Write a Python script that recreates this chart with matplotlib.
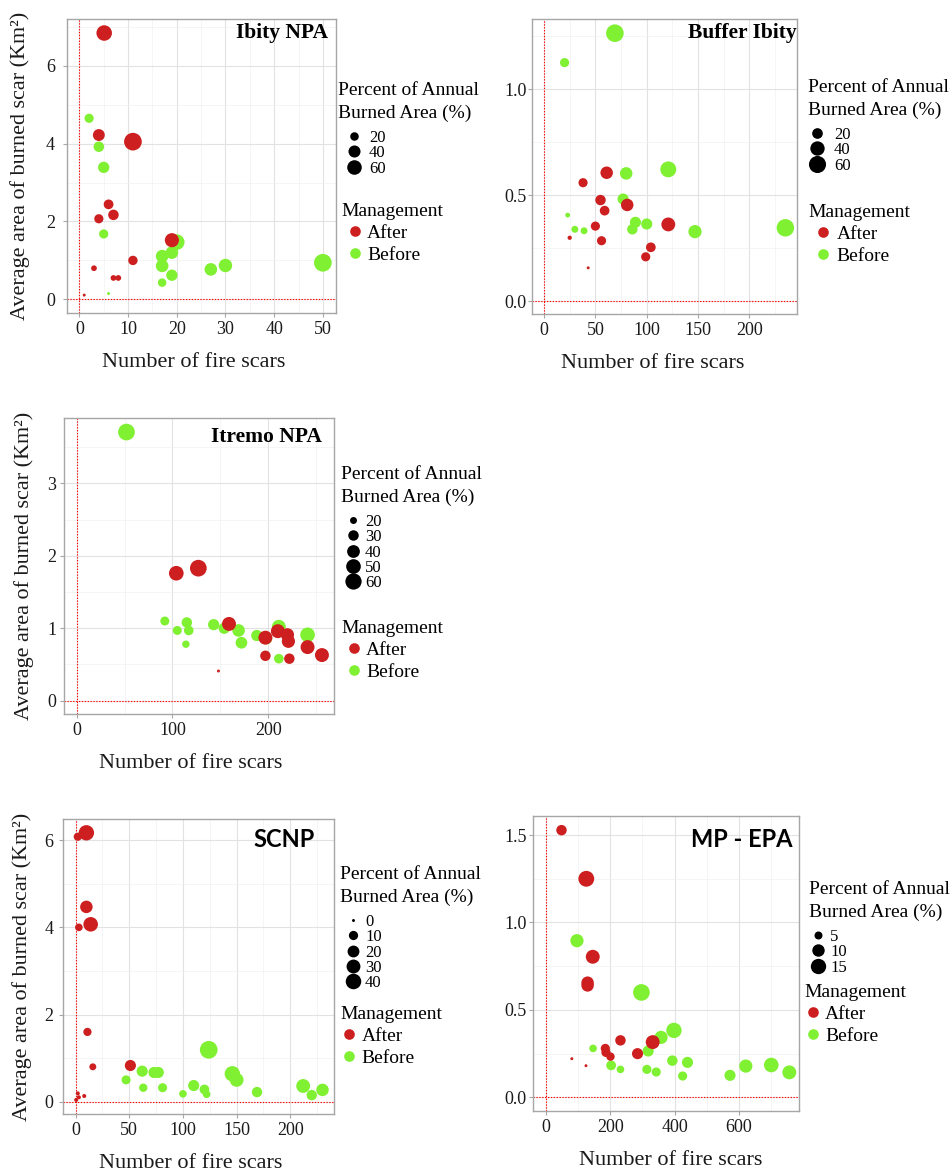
"""Fire-scar bubble plots for five protected areas (before / after management)."""

import numpy as np
import matplotlib
matplotlib.use("Agg")
import matplotlib.pyplot as plt
from matplotlib.lines import Line2D
from matplotlib.ticker import MultipleLocator, FormatStrFormatter

W, H = 950, 1174

# ---- data: number of scars, mean scar area (km2), percent of annual burned area
IBITY_AFTER_X = [5.1, 4.0, 11.0, 6.0, 4.0, 7.0, 19.0, 11.0, 3.0, 7.0, 8.0, 1.0]
IBITY_AFTER_Y = [6.84, 4.22, 4.05, 2.44, 2.07, 2.17, 1.52, 1.00, 0.80, 0.55, 0.55, 0.11]
IBITY_AFTER_P = [69, 39, 92, 26, 23, 30, 56, 24, 11, 11, 11, 8]
IBITY_BEFORE_X = [2.0, 4.0, 5.0, 5.0, 20.0, 17.0, 19.0, 17.0, 19.0, 17.0, 27.0, 30.0, 50.0, 6.0]
IBITY_BEFORE_Y = [4.65, 3.92, 3.39, 1.68, 1.47, 1.11, 1.20, 0.86, 0.62, 0.43, 0.77, 0.87, 0.94, 0.15]
IBITY_BEFORE_P = [23, 30, 35, 23, 69, 44, 44, 44, 35, 20, 44, 50, 92, 8]

BUFFER_AFTER_X = [38, 61, 55, 59, 81, 50, 25, 56, 121, 104, 99, 43]
BUFFER_AFTER_Y = [0.559, 0.606, 0.477, 0.427, 0.454, 0.354, 0.299, 0.285, 0.362, 0.254, 0.209, 0.157]
BUFFER_AFTER_P = [14, 29, 19, 16, 29, 14, 3.5, 14, 37, 16, 14, 3]
BUFFER_BEFORE_X = [69, 20, 80, 121, 77, 23, 30, 39, 89, 86, 100, 147, 235]
BUFFER_BEFORE_Y = [1.265, 1.126, 0.603, 0.622, 0.482, 0.406, 0.339, 0.332, 0.372, 0.339, 0.364, 0.328, 0.346]
BUFFER_BEFORE_P = [64, 14, 29, 51, 22, 4, 7.5, 7.5, 22, 19, 22, 33, 63]

ITREMO_AFTER_X = [104, 127, 159, 197, 210, 220, 221, 197, 222, 241, 256, 148]
ITREMO_AFTER_Y = [1.76, 1.83, 1.06, 0.87, 0.96, 0.91, 0.82, 0.62, 0.58, 0.74, 0.63, 0.41]
ITREMO_AFTER_P = [50, 63, 46, 46, 46, 42, 42, 30, 30, 46, 46, 16]
ITREMO_BEFORE_X = [52, 92, 105, 115, 117, 114, 143, 154, 169, 172, 188, 198, 211, 211, 241]
ITREMO_BEFORE_Y = [3.71, 1.10, 0.97, 1.08, 0.97, 0.78, 1.05, 1.00, 0.97, 0.80, 0.90, 0.86, 1.02, 0.58, 0.91]
ITREMO_BEFORE_P = [63, 25, 25, 30, 27, 21, 33, 33, 39, 35, 33, 35, 46, 27, 50]

SCNP_AFTER_X = [2, 10, 10, 3, 14, 11, 16, 51, 2, 0.5, 8, 3]
SCNP_AFTER_Y = [6.08, 6.17, 4.47, 4.00, 4.07, 1.60, 0.80, 0.83, 0.19, 0.04, 0.13, 0.10]
SCNP_AFTER_P = [7, 39, 23, 5.5, 34, 7, 4, 17, 0.3, 0.3, 0.3, 0.3]
SCNP_BEFORE_X = [47, 62, 63, 73, 77, 81, 100, 110, 120, 122, 124, 146, 150, 169, 212, 220, 230]
SCNP_BEFORE_Y = [0.50, 0.70, 0.32, 0.67, 0.67, 0.32, 0.18, 0.37, 0.28, 0.17, 1.19, 0.64, 0.50, 0.22, 0.36, 0.15, 0.27]
SCNP_BEFORE_P = [9.4, 17, 7.4, 17, 17, 9.4, 5.5, 17, 11.6, 5.5, 55, 39, 30, 14, 30, 14, 23]

MPEPA_AFTER_X = [49, 126, 146, 130, 130, 232, 185, 187, 201, 285, 332, 81, 125]
MPEPA_AFTER_Y = [1.528, 1.25, 0.804, 0.656, 0.64, 0.326, 0.28, 0.257, 0.233, 0.25, 0.316, 0.221, 0.181]
MPEPA_AFTER_P = [7.4, 16, 12.4, 10, 10, 7.4, 6, 6, 5.3, 8.2, 12.4, 3, 3]
MPEPA_BEFORE_X = [97, 297, 147, 203, 232, 318, 358, 398, 314, 343, 393, 425, 440, 572, 621, 700, 756]
MPEPA_BEFORE_Y = [0.896, 0.60, 0.28, 0.183, 0.16, 0.265, 0.343, 0.383, 0.16, 0.145, 0.21, 0.122,
                  0.20, 0.126, 0.179, 0.185, 0.143]
MPEPA_BEFORE_P = [11.2, 17.7, 4.7, 6.6, 4.7, 8.2, 11.2, 15, 6, 6, 7.4, 6, 8.2, 8.2, 11.2, 13.6, 12.4]

# ---- styling
SERIF = "Liberation Serif"
SANS = "Lato"
RED = "#cd1f1f"
GREEN = "#80f032"
MM_PX = 2.95  # ggplot size range 1..6 mm, in pixels

plt.rcParams["font.family"] = [SERIF, "DejaVu Serif"]


def diam_px(v, lims):
    lo, hi = lims
    t = np.clip((np.asarray(v, float) - lo) / (hi - lo), 0, 1)
    return MM_PX * (1 + 5 * np.sqrt(t))


def px_rect(l, t, r, b):
    return [l / W, 1 - b / H, (r - l) / W, (b - t) / H]


def setup_axes(ax, xlim, ylim, xmaj, ymaj, xmin, ymin, yfmt, ypad):
    ax.set_xlim(*xlim)
    ax.set_ylim(*ylim)
    ax.xaxis.set_major_locator(MultipleLocator(xmaj))
    ax.yaxis.set_major_locator(MultipleLocator(ymaj))
    ax.xaxis.set_minor_locator(MultipleLocator(xmin))
    ax.yaxis.set_minor_locator(MultipleLocator(ymin))
    if yfmt:
        ax.yaxis.set_major_formatter(FormatStrFormatter(yfmt))
    ax.set_axisbelow(True)
    ax.grid(which="major", color="#e2e2e2", lw=0.8)
    ax.grid(which="minor", color="#f1f1f1", lw=0.5)
    for sp in ax.spines.values():
        sp.set_color("#a6a6a6")
        sp.set_linewidth(1.0)
    ax.tick_params(which="major", length=3, width=0.8, color="#a6a6a6",
                   labelsize=13, labelcolor="#1a1a1a")
    ax.tick_params(axis="x", pad=3)
    ax.tick_params(axis="y", pad=ypad)
    ax.tick_params(which="minor", length=0)
    ax.axhline(0, color="red", lw=0.8, ls=(0, (1.2, 1.4)), zorder=1.5)
    ax.axvline(0, color="red", lw=0.8, ls=(0, (1.2, 1.4)), zorder=1.5)


def bubbles(ax, x, y, p, color, lims, z):
    d = diam_px(p, lims) * 0.72
    ax.scatter(x, y, s=d ** 2, color=color, linewidths=0, zorder=z)


def add_legends(fig, ax, breaks, lims, size_at, size_dot, size_txt, mgmt_at, mgmt_dot, mgmt_txt):
    fs_lab, fs_title, fs_m = 12.0, 14.0, 14.0
    px_lab, px_m = fs_lab * 100 / 72, fs_m * 100 / 72
    handles = [Line2D([], [], ls="", marker="o", ms=float(diam_px(b, lims)) * 0.72,
                      mfc="black", mec="none") for b in breaks]
    leg1 = ax.legend(handles, [str(b) for b in breaks],
                     title="Percent of Annual\nBurned Area (%)",
                     loc="upper left", bbox_to_anchor=(size_at[0] / W, 1 - size_at[1] / H),
                     bbox_transform=fig.transFigure, frameon=False, borderpad=0,
                     borderaxespad=0, prop={"size": fs_lab},
                     title_fontproperties={"size": fs_title},
                     handlelength=2 * size_dot / px_lab,
                     handletextpad=(size_txt - 2 * size_dot) / px_lab,
                     labelspacing=-0.04, alignment="left", numpoints=1)
    leg1.get_title().set_linespacing(1.45)
    leg1._legend_box.sep = 5.5  # gap between title and keys, points
    ax.add_artist(leg1)
    mh = [Line2D([], [], ls="", marker="o", ms=float(MM_PX * 3.6) * 0.72, mfc=c, mec="none")
          for c in (RED, GREEN)]
    ax.legend(mh, ["After", "Before"], title="Management", loc="upper left",
              bbox_to_anchor=(mgmt_at[0] / W, 1 - mgmt_at[1] / H),
              bbox_transform=fig.transFigure, frameon=False, borderpad=0,
              borderaxespad=0, prop={"size": fs_m},
              title_fontproperties={"size": fs_title},
              handlelength=2 * mgmt_dot / px_m,
              handletextpad=(mgmt_txt - 2 * mgmt_dot) / px_m,
              labelspacing=0.23, alignment="left", numpoints=1)


fig = plt.figure(figsize=(W / 100, H / 100), dpi=100)

YLABEL = "Average area of burned scar (Km²)"
XLABEL = "Number of fire scars"

panels = [
    dict(rect=(66.7, 19, 336, 313), xlim=(-2.6, 52.7), ylim=(-0.35, 7.2), xmaj=10, ymaj=2,
         xmin=5, ymin=1, yfmt=None, ypad=5.5, lims=(8, 92),
         after=(IBITY_AFTER_X, IBITY_AFTER_Y, IBITY_AFTER_P),
         before=(IBITY_BEFORE_X, IBITY_BEFORE_Y, IBITY_BEFORE_P),
         title="Ibity NPA", tfont=SERIF, tsize=15.5, tpos=(0.97, 0.952),
         ylab_x=30, xlab_x=193.5, breaks=[20, 40, 60],
         size_at=(338, 82), size_dot=16, size_txt=31, mgmt_at=(341, 203), mgmt_dot=14, mgmt_txt=26),
    dict(rect=(531.7, 19, 797.3, 314), xlim=(-12, 246.6), ylim=(-0.061, 1.332), xmaj=50, ymaj=0.5,
         xmin=25, ymin=0.25, yfmt="%.1f", ypad=0.5, lims=(3, 65),
         after=(BUFFER_AFTER_X, BUFFER_AFTER_Y, BUFFER_AFTER_P),
         before=(BUFFER_BEFORE_X, BUFFER_BEFORE_Y, BUFFER_BEFORE_P),
         title="Buffer Ibity", tfont=SERIF, tsize=15.5, tpos=(0.998, 0.952),
         ylab_x=None, xlab_x=653, breaks=[20, 40, 60],
         size_at=(808, 79), size_dot=9, size_txt=26, mgmt_at=(808, 204), mgmt_dot=15, mgmt_txt=28.7),
    dict(rect=(64, 418.3, 334.3, 714), xlim=(-13.2, 268.9), ylim=(-0.184, 3.90), xmaj=100, ymaj=1,
         xmin=50, ymin=0.5, yfmt=None, ypad=2.4, lims=(16, 70),
         after=(ITREMO_AFTER_X, ITREMO_AFTER_Y, ITREMO_AFTER_P),
         before=(ITREMO_BEFORE_X, ITREMO_BEFORE_Y, ITREMO_BEFORE_P),
         title="Itremo NPA", tfont=SERIF, tsize=15.5, tpos=(0.953, 0.936),
         ylab_x=34.5, xlab_x=191, breaks=[20, 30, 40, 50, 60],
         size_at=(340.7, 466), size_dot=12, size_txt=24.3, mgmt_at=(341, 620), mgmt_dot=12.6, mgmt_txt=25),
    dict(rect=(63.3, 819.3, 334.3, 1114), xlim=(-11.5, 241), ylim=(-0.283, 6.48), xmaj=50, ymaj=2,
         xmin=25, ymin=1, yfmt=None, ypad=4.3, lims=(0, 55),
         after=(SCNP_AFTER_X, SCNP_AFTER_Y, SCNP_AFTER_P),
         before=(SCNP_BEFORE_X, SCNP_BEFORE_Y, SCNP_BEFORE_P),
         title="SCNP", tfont=SANS, tsize=17, tpos=(0.926, 0.93),
         ylab_x=32.5, xlab_x=190.3, breaks=[0, 10, 20, 30, 40],
         size_at=(340, 866), size_dot=12.7, size_txt=25, mgmt_at=(340, 1006), mgmt_dot=9.3, mgmt_txt=21.7),
    dict(rect=(533.3, 816, 799.3, 1111), xlim=(-38.5, 787), ylim=(-0.078, 1.609), xmaj=200, ymaj=0.5,
         xmin=100, ymin=0.25, yfmt="%.1f", ypad=1.9, lims=(3, 20),
         after=(MPEPA_AFTER_X, MPEPA_AFTER_Y, MPEPA_AFTER_P),
         before=(MPEPA_BEFORE_X, MPEPA_BEFORE_Y, MPEPA_BEFORE_P),
         title="MP - EPA", tfont=SANS, tsize=17, tpos=(0.974, 0.921),
         ylab_x=None, xlab_x=670.8, breaks=[5, 10, 15],
         size_at=(809, 881), size_dot=8.7, size_txt=21, mgmt_at=(804, 984), mgmt_dot=9.3, mgmt_txt=21),
]

for p in panels:
    l, t, r, b = p["rect"]
    ax = fig.add_axes(px_rect(l, t, r, b))
    setup_axes(ax, p["xlim"], p["ylim"], p["xmaj"], p["ymaj"], p["xmin"], p["ymin"],
               p["yfmt"], p["ypad"])
    bubbles(ax, *p["before"], GREEN, p["lims"], 2)
    bubbles(ax, *p["after"], RED, p["lims"], 3)

    ax.text(p["tpos"][0], p["tpos"][1], p["title"], transform=ax.transAxes, ha="right",
            va="center", family=p["tfont"], fontsize=p["tsize"], fontweight="bold", zorder=5)

    ax.set_xlabel(XLABEL, fontsize=16, color="#1a1a1a")
    ax.xaxis.set_label_coords((p["xlab_x"] - l) / (r - l), -(54.0) / (b - t))
    ax.xaxis.label.set_va("baseline")
    if p["ylab_x"] is not None:
        ax.set_ylabel(YLABEL, fontsize=15.9, color="#1a1a1a")
        ax.yaxis.set_label_coords((p["ylab_x"] - l) / (r - l), 0.5)

    add_legends(fig, ax, p["breaks"], p["lims"], p["size_at"], p["size_dot"], p["size_txt"],
                p["mgmt_at"], p["mgmt_dot"], p["mgmt_txt"])

fig.savefig("out.png", dpi=100, facecolor="white")
